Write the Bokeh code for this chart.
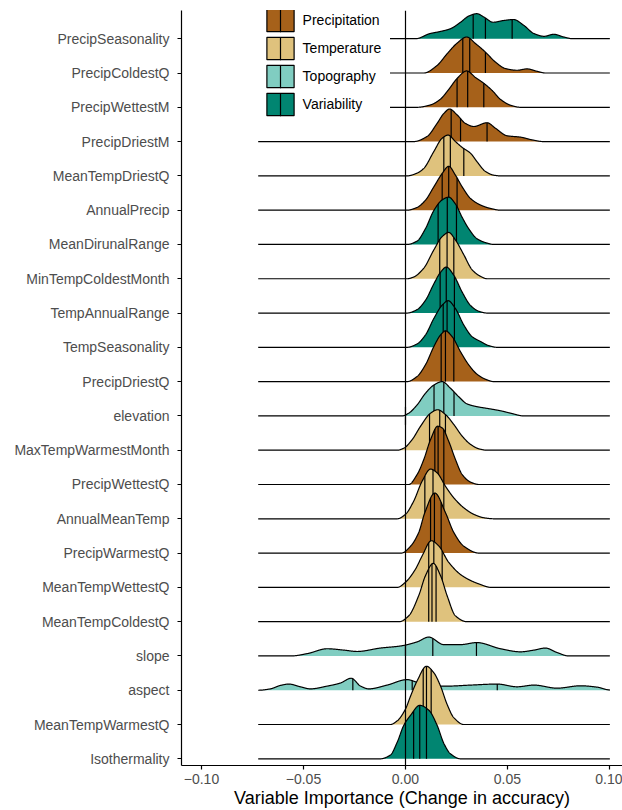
import numpy as np
from bokeh.plotting import figure
from bokeh.models import ColumnDataSource, FixedTicker, Legend, LegendItem, Range1d
from bokeh.embed import file_html
from bokeh.resources import INLINE

# ---------------- data ----------------
variables = ["PrecipSeasonality", "PrecipColdestQ", "PrecipWettestM", "PrecipDriestM",
             "MeanTempDriestQ", "AnnualPrecip", "MeanDirunalRange", "MinTempColdestMonth",
             "TempAnnualRange", "TempSeasonality", "PrecipDriestQ", "elevation",
             "MaxTempWarmestMonth", "PrecipWettestQ", "AnnualMeanTemp", "PrecipWarmestQ",
             "MeanTempWettestQ", "MeanTempColdestQ", "slope", "aspect",
             "MeanTempWarmestQ", "Isothermality"]

groups = ["Variability", "Precipitation", "Precipitation", "Precipitation",
          "Temperature", "Precipitation", "Variability", "Temperature",
          "Variability", "Variability", "Precipitation", "Topography",
          "Temperature", "Precipitation", "Temperature", "Precipitation",
          "Temperature", "Temperature", "Topography", "Topography",
          "Temperature", "Variability"]

group_names = ["Precipitation", "Temperature", "Topography", "Variability"]

# density profile of each variable: importance values (x) and ridge heights (in row units)
density_x = [
    [0.005, 0.012, 0.017, 0.022, 0.027, 0.031, 0.035, 0.0385, 0.043, 0.048, 0.053, 0.058, 0.063, 0.068, 0.0727, 0.0776, 0.082],
    [0.009, 0.0155, 0.0204, 0.0253, 0.030, 0.0343, 0.0392, 0.0441, 0.049, 0.0547, 0.0596, 0.0645, 0.0686],
    [0.0057, 0.0123, 0.017, 0.0212, 0.0253, 0.030, 0.0343, 0.0384, 0.0425, 0.0466, 0.0515, 0.0564],
    [0.004, 0.0106, 0.0155, 0.0188, 0.0216, 0.0253, 0.0294, 0.0335, 0.040, 0.0441, 0.0498, 0.0564, 0.0621, 0.0677],
    [0.0008, 0.0057, 0.009, 0.0139, 0.018, 0.0209, 0.0245, 0.0278, 0.0319, 0.035, 0.0392, 0.0433, 0.0466],
    [0.0008, 0.0057, 0.0098, 0.0139, 0.018, 0.0212, 0.0245, 0.0278, 0.0319, 0.0368, 0.0417, 0.0466],
    [0.0008, 0.0057, 0.0098, 0.0139, 0.018, 0.0212, 0.0245, 0.0278, 0.031, 0.035, 0.040, 0.0433],
    [0.0008, 0.004, 0.009, 0.0139, 0.018, 0.0212, 0.0245, 0.0286, 0.0327, 0.0368, 0.040],
    [0.0008, 0.0057, 0.0098, 0.0139, 0.0172, 0.020, 0.0237, 0.0278, 0.0319, 0.036, 0.040],
    [0.0008, 0.0057, 0.0098, 0.0139, 0.018, 0.0209, 0.0245, 0.0286, 0.0327, 0.0368, 0.0408, 0.045],
    [0.0008, 0.0057, 0.0098, 0.0139, 0.0172, 0.0196, 0.0229, 0.027, 0.031, 0.035, 0.0392, 0.0433],
    [-0.0016, 0.0016, 0.0057, 0.0098, 0.0139, 0.018, 0.022, 0.0261, 0.0302, 0.035, 0.040, 0.0466, 0.0515, 0.058],
    [-0.004, -0.0008, 0.0033, 0.0074, 0.0123, 0.0158, 0.0196, 0.0237, 0.0278, 0.0319, 0.036, 0.040],
    [0.0016, 0.0057, 0.009, 0.0123, 0.0158, 0.018, 0.0212, 0.0245, 0.0278, 0.0319, 0.036],
    [-0.004, 0.0, 0.004, 0.0082, 0.0123, 0.0155, 0.0196, 0.0237, 0.0286, 0.0335, 0.0384, 0.0433],
    [-0.002, 0.0025, 0.0065, 0.0095, 0.0144, 0.0196, 0.0237, 0.0286, 0.036],
    [-0.004, 0.0, 0.0049, 0.0082, 0.0127, 0.0163, 0.0212, 0.0278, 0.036, 0.042],
    [-0.003, 0.0016, 0.0065, 0.0098, 0.0136, 0.0172, 0.0204, 0.0245, 0.030],
    [-0.056, -0.048, -0.0384, -0.0302, -0.0237, -0.0123, -0.0025, 0.0057, 0.0114, 0.0188, 0.027, 0.035, 0.0466, 0.0564, 0.063, 0.0686, 0.0743, 0.080],
    [-0.072, -0.0662, -0.0613, -0.0572, -0.0515, -0.0466, -0.0384, -0.0319, -0.0266, -0.022, -0.018, -0.009, 0.0008, 0.0057, 0.0123, 0.0204, 0.0319, 0.045, 0.0547, 0.063, 0.0743, 0.0858, 0.094, 0.1],
    [-0.0074, -0.004, 0.0, 0.0025, 0.0057, 0.0103, 0.0139, 0.0172, 0.0204, 0.0237, 0.0286],
    [-0.0123, -0.0074, -0.004, -0.0008, 0.0025, 0.007, 0.0114, 0.0155, 0.0188, 0.022, 0.027],
]
density_h = [
    [0, .15, .21, .29, .48, .66, .73, .63, .48, .53, .56, .39, .15, .07, .13, .05, 0],
    [0, .22, .56, .87, 1.05, .86, .61, .32, .13, .08, .12, .05, 0],
    [0, .07, .23, .52, .84, 1.06, .87, .70, .49, .23, .06, 0],
    [0, .15, .53, .82, .95, .78, .53, .44, .55, .39, .17, .13, .05, 0],
    [0, .08, .22, .71, 1.10, 1.19, 1.0, .83, .66, .42, .13, .02, 0],
    [0, .08, .29, .68, 1.07, 1.28, 1.02, .68, .34, .15, .05, 0],
    [0, .10, .46, .99, 1.30, 1.38, 1.18, .79, .46, .17, .04, 0],
    [0, .05, .31, .84, 1.23, 1.35, 1.13, .70, .26, .07, 0],
    [0, .10, .37, .85, 1.19, 1.34, 1.10, .61, .22, .05, 0],
    [0, .10, .36, .84, 1.23, 1.36, 1.13, .65, .31, .17, .05, 0],
    [0, .15, .49, 1.02, 1.36, 1.48, 1.31, .87, .49, .22, .07, 0],
    [0, .08, .32, .66, .90, 1.0, .81, .56, .35, .27, .22, .15, .08, 0],
    [0, .06, .31, .70, 1.08, 1.18, 1.04, .75, .41, .17, .04, 0],
    [0, .29, .73, 1.31, 1.70, 1.65, 1.26, .73, .29, .07, 0],
    [0, .13, .51, 1.10, 1.45, 1.34, .95, .61, .32, .13, .03, 0],
    [0, .20, .60, 1.18, 1.75, 1.18, .60, .20, 0],
    [0, .15, .53, .92, 1.36, 1.21, .73, .34, .10, 0],
    [0, .17, .76, 1.34, 1.70, 1.34, .76, .17, 0],
    [0, .07, .21, .17, .13, .23, .29, .41, .55, .33, .33, .39, .21, .12, .17, .23, .10, 0],
    [0, .04, .14, .18, .10, .04, .12, .21, .35, .12, .04, .15, .31, .23, .12, .12, .15, .18, .10, .15, .06, .13, .09, .01],
    [0, .11, .45, .83, 1.27, 1.70, 1.51, 1.12, .59, .20, 0],
    [0, .11, .49, .98, 1.27, 1.56, 1.42, .98, .45, .15, 0],
]
# 25 %, 50 %, 75 % quantile lines
quartiles = [
    [0.0332, 0.0392, 0.0523], [0.0281, 0.0315, 0.0392], [0.0253, 0.0305, 0.0384],
    [0.0224, 0.027, 0.040], [0.0188, 0.022, 0.0286], [0.018, 0.0212, 0.0253],
    [0.016, 0.0205, 0.025], [0.0168, 0.0204, 0.0237], [0.017, 0.020, 0.024],
    [0.0185, 0.0204, 0.024], [0.0175, 0.0196, 0.0237], [0.014, 0.0188, 0.0238],
    [0.0118, 0.0168, 0.0196], [0.0144, 0.016, 0.0188], [0.0095, 0.0135, 0.0188],
    [0.0123, 0.0142, 0.0175], [0.0114, 0.0139, 0.018], [0.0114, 0.013, 0.015],
    [0.0, 0.0134, 0.0348], [-0.0258, 0.0033, 0.045], [0.0087, 0.0103, 0.0126],
    [0.004, 0.007, 0.0103],
]
data_min, data_max = -0.0722, 0.1002   # range of all importance values
x_ticks = [-0.10, -0.05, 0.0, 0.05, 0.10]
x_tick_labels = ["\u22120.10", "\u22120.05", "0.00", "0.05", "0.10"]
zero_ref = 0.0                          # reference line at zero importance

# ---------------- styling ----------------
group_colors = {"Precipitation": "#A6611A", "Temperature": "#DFC27D",
                "Topography": "#80CDC1", "Variability": "#018571"}
FONT = "Liberation Sans"
LW = 1.2


def smooth_profile(xk, yk, x):
    """Monotone cubic (Fritsch-Carlson) curve through the read density points."""
    xk = np.asarray(xk, float)
    yk = np.asarray(yk, float)
    h = np.diff(xk)
    d = np.diff(yk) / h
    m = np.zeros_like(yk)
    for k in range(1, len(xk) - 1):
        if d[k - 1] * d[k] > 0:
            w1 = 2 * h[k] + h[k - 1]
            w2 = h[k] + 2 * h[k - 1]
            m[k] = (w1 + w2) / (w1 / d[k - 1] + w2 / d[k])
    out = np.zeros_like(x)
    inside = (x >= xk[0]) & (x <= xk[-1])
    xi = x[inside]
    idx = np.clip(np.searchsorted(xk, xi) - 1, 0, len(h) - 1)
    t = (xi - xk[idx]) / h[idx]
    h00 = 2 * t**3 - 3 * t**2 + 1
    h10 = t**3 - 2 * t**2 + t
    h01 = -2 * t**3 + 3 * t**2
    h11 = t**3 - t**2
    out[inside] = (h00 * yk[idx] + h10 * h[idx] * m[idx]
                   + h01 * yk[idx + 1] + h11 * h[idx] * m[idx + 1])
    return np.maximum(out, 0.0)


n = len(variables)
ypos = [n - i for i in range(n)]

p = figure(width=622, height=810,
           x_range=Range1d(-0.1098, 0.1064), y_range=Range1d(0.805, 22.823),
           output_backend="svg", toolbar_location=None,
           min_border_left=181, min_border_right=0, min_border_top=10, min_border_bottom=43)
p.outline_line_color = None
p.xgrid.visible = False
p.ygrid.visible = False
p.background_fill_color = "white"

xgrid = np.linspace(data_min, data_max, 1400)
for i, var in enumerate(variables):
    base = ypos[i]
    col = group_colors[groups[i]]
    hh = smooth_profile(density_x[i], density_h[i], xgrid)
    src = ColumnDataSource(dict(x=xgrid, y0=np.full_like(xgrid, base), y1=base + hh))
    p.varea(x="x", y1="y0", y2="y1", source=src, fill_color=col, fill_alpha=1.0)
    p.line(x="x", y="y1", source=src, line_color="black", line_width=LW, line_join="round")
    q = np.asarray(quartiles[i], float)
    qh = smooth_profile(density_x[i], density_h[i], q)
    qsrc = ColumnDataSource(dict(x0=q, y0=np.full_like(q, base), y1=base + qh))
    p.segment(x0="x0", y0="y0", x1="x0", y1="y1", source=qsrc, line_color="black", line_width=LW)

# thin zero-width oval lying on the zero line: gives the legend keys their vertical stroke
key_stroke = p.ellipse(x=[zero_ref], y=[ypos[n // 2]], width=1e-7, height=1.0,
                       fill_color=None, line_color="black", line_width=LW)
p.vspan(x=[zero_ref], line_color="black", line_width=LW)

# legend: one invisible proxy per group (interquartile box of its first variable)
items = []
for g in group_names:
    i = groups.index(g)
    q = quartiles[i]
    proxy = p.quad(left=[q[0]], right=[q[2]], bottom=[ypos[i]], top=[ypos[i]],
                   fill_color=group_colors[g], line_color="black", line_width=LW,
                   visible=False)
    items.append(LegendItem(label=g, renderers=[proxy, key_stroke]))
legend = Legend(items=items, location=(72.6, 638), orientation="vertical",
                glyph_width=34, glyph_height=28, spacing=0, padding=8, margin=0,
                label_standoff=6, label_text_font=FONT, label_text_font_size="14px",
                label_text_color="black", border_line_color="white", border_line_width=1,
                background_fill_color="white", background_fill_alpha=1.0,
                inactive_fill_alpha=0.0)
p.add_layout(legend)

# axes
for ax in (p.xaxis[0], p.yaxis[0]):
    ax.axis_line_color = "black"
    ax.axis_line_width = LW
    ax.major_tick_line_color = "black"
    ax.major_tick_line_width = LW
    ax.major_tick_out = 4
    ax.major_tick_in = 0
    ax.minor_tick_line_color = None
    ax.major_label_text_font = FONT
    ax.major_label_text_font_size = "14px"
    ax.major_label_text_color = "#4D4D4D"

p.xaxis.ticker = FixedTicker(ticks=x_ticks)
p.xaxis.major_label_overrides = {t: lab for t, lab in zip(x_ticks, x_tick_labels)}
p.xaxis.major_label_standoff = 4
p.xaxis.axis_label = "Variable Importance (Change in accuracy)"
p.xaxis.axis_label_text_font = FONT
p.xaxis.axis_label_text_font_size = "18px"
p.xaxis.axis_label_text_font_style = "normal"
p.xaxis.axis_label_text_color = "black"
p.xaxis.axis_label_standoff = 1

p.yaxis.ticker = FixedTicker(ticks=ypos)
p.yaxis.major_label_overrides = {ypos[i]: variables[i] for i in range(n)}
p.yaxis.major_label_standoff = 8

open("out.html", "w").write(file_html(p, INLINE))
